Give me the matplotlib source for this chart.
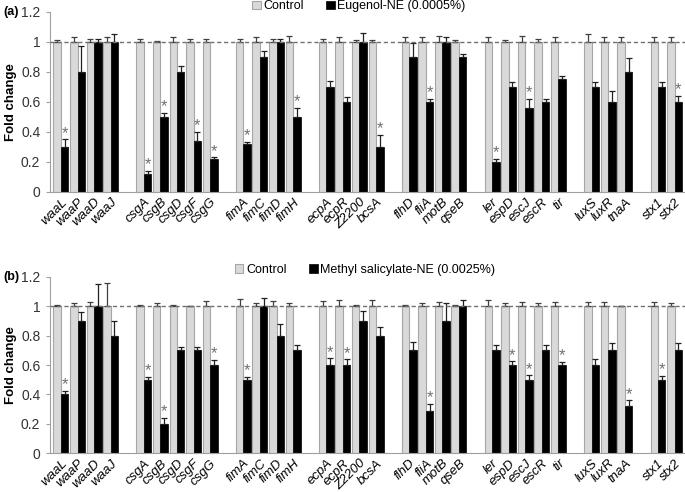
import matplotlib
matplotlib.use("Agg")
import matplotlib.pyplot as plt
import numpy as np

plt.rcParams['font.family'] = ['Liberation Sans', 'DejaVu Sans']

groups = [
    ['waaL', 'waaP', 'waaD', 'waaJ'],
    ['csgA', 'csgB', 'csgD', 'csgF', 'csgG'],
    ['fimA', 'fimC', 'fimD', 'fimH'],
    ['ecpA', 'ecpR', 'Z2200', 'bcsA'],
    ['flhD', 'fliA', 'motB', 'qseB'],
    ['ler', 'espD', 'escJ', 'escR', 'tir'],
    ['luxS', 'luxR', 'tnaA'],
    ['stx1', 'stx2'],
]

# panel (a) eugenol-NE
a_ctrl_err = [0.01, 0.03, 0.02, 0.03, 0.02, 0.005, 0.03, 0.02, 0.02, 0.02, 0.03, 0.02, 0.04,
              0.02, 0.03, 0.01, 0.015, 0.03, 0.03, 0.04, 0.015, 0.03, 0.01, 0.04, 0.02, 0.035,
              0.05, 0.03, 0.035, 0.03, 0.03]
a_vals = [0.30, 0.80, 1.00, 1.00, 0.12, 0.50, 0.80, 0.34, 0.22, 0.32, 0.90, 1.00, 0.50,
          0.70, 0.60, 1.00, 0.30, 0.90, 0.60, 1.00, 0.90, 0.20, 0.70, 0.56, 0.60, 0.75,
          0.70, 0.60, 0.80, 0.70, 0.60]
a_err = [0.05, 0.17, 0.02, 0.05, 0.02, 0.025, 0.04, 0.06, 0.01, 0.015, 0.04, 0.02, 0.06,
         0.04, 0.03, 0.06, 0.08, 0.09, 0.02, 0.03, 0.02, 0.02, 0.035, 0.06, 0.02, 0.02,
         0.035, 0.07, 0.09, 0.03, 0.04]
a_sig = ['waaL', 'csgA', 'csgB', 'csgF', 'csgG', 'fimA', 'fimH', 'bcsA', 'fliA', 'ler', 'escJ', 'stx2']

# panel (b) methyl salicylate-NE
b_ctrl_err = [0.01, 0.02, 0.03, 0.16, 0.01, 0.02, 0.01, 0.005, 0.035, 0.05, 0.02, 0.035, 0.02,
              0.035, 0.04, 0.01, 0.04, 0.01, 0.02, 0.03, 0.01, 0.04, 0.02, 0.03, 0.02, 0.03,
              0.03, 0.03, 0.005, 0.03, 0.02]
b_vals = [0.40, 0.90, 1.00, 0.80, 0.50, 0.20, 0.70, 0.70, 0.60, 0.50, 1.00, 0.80, 0.70,
          0.60, 0.60, 0.90, 0.80, 0.70, 0.29, 0.90, 1.00, 0.70, 0.60, 0.50, 0.70, 0.60,
          0.60, 0.70, 0.32, 0.50, 0.70]
b_err = [0.025, 0.06, 0.15, 0.10, 0.02, 0.04, 0.025, 0.02, 0.035, 0.02, 0.06, 0.08, 0.04,
         0.045, 0.04, 0.07, 0.06, 0.06, 0.045, 0.12, 0.04, 0.04, 0.025, 0.03, 0.04, 0.02,
         0.04, 0.05, 0.04, 0.025, 0.05]
b_sig = ['waaL', 'csgA', 'csgB', 'csgG', 'fimA', 'ecpA', 'ecpR', 'fliA', 'espD', 'escJ', 'tir', 'tnaA', 'stx1']

# slot positions with one empty slot between groups
genes = []
pos = []
slot = 0
for g in groups:
    for name in g:
        genes.append(name)
        pos.append(slot)
        slot += 1
    slot += 1
pos = np.array(pos)

fig = plt.figure(figsize=(6.85, 4.92), dpi=100)
ctrl_color = '#d9d9d9'
edge_color = '#a6a6a6'
w = 0.45


def draw(ax, vals, err, ctrl_err, sig, label, legend_label, leg_x, leg_y):
    n = len(vals)
    ax.bar(pos - w / 2, np.ones(n), w, color=ctrl_color, edgecolor=edge_color, linewidth=0.8,
           yerr=[np.zeros(n), ctrl_err], error_kw=dict(ecolor='#404040', elinewidth=0.9, capsize=2.2, capthick=0.9),
           label='Control', zorder=2)
    ax.bar(pos + w / 2, vals, w, color='black', edgecolor='black', linewidth=0.5,
           yerr=[np.zeros(n), err], error_kw=dict(ecolor='#202020', elinewidth=0.9, capsize=2.2, capthick=0.9),
           label=legend_label, zorder=2)
    ax.axhline(1.0, color='#707070', linestyle=(0, (3, 2)), linewidth=1, zorder=3)
    for i, name in enumerate(genes):
        if name in sig:
            ax.text(pos[i] + w / 2, vals[i] + err[i] - 0.01, '*', ha='center', va='bottom',
                    fontsize=12, color='#707070')
    ax.set_xlim(-0.66, 37.63)
    ax.set_ylim(0, 1.2)
    ax.set_yticks([0, 0.2, 0.4, 0.6, 0.8, 1.0, 1.2])
    ax.set_yticklabels(['0', '0.2', '0.4', '0.6', '0.8', '1', '1.2'], fontsize=10, color='#333333')
    ax.set_xticks(pos)
    ax.set_xticklabels(genes, rotation=45, ha='right', rotation_mode='anchor', fontsize=9.5, style='italic')
    ax.tick_params(axis='x', length=0, pad=3)
    ax.tick_params(axis='y', length=3, color='#a0a0a0', pad=4)
    for s in ['top', 'right']:
        ax.spines[s].set_visible(False)
    ax.spines['left'].set_color('#a0a0a0')
    ax.spines['bottom'].set_color('#a0a0a0')
    ax.set_ylabel('Fold change', fontsize=9.5, fontweight='bold', labelpad=3)
    ax.text(-0.073, 1.0, label, transform=ax.transAxes, fontsize=9, fontweight='bold', ha='left', va='center')
    ax.legend(loc='center left', bbox_to_anchor=(leg_x, leg_y), ncol=2, frameon=False, fontsize=9,
              handlelength=0.7, handleheight=0.7, handletextpad=0.2, columnspacing=1.8, borderaxespad=0)


ax1 = fig.add_axes([0.073, 0.610, 0.927, 0.366])
draw(ax1, a_vals, a_err, a_ctrl_err, a_sig, '(a)', 'Eugenol-NE (0.0005%)', 0.31, 1.03)
ax2 = fig.add_axes([0.073, 0.079, 0.927, 0.358])
draw(ax2, b_vals, b_err, b_ctrl_err, b_sig, '(b)', 'Methyl salicylate-NE (0.0025%)', 0.283, 1.04)

fig.savefig('out.png', dpi=100)
